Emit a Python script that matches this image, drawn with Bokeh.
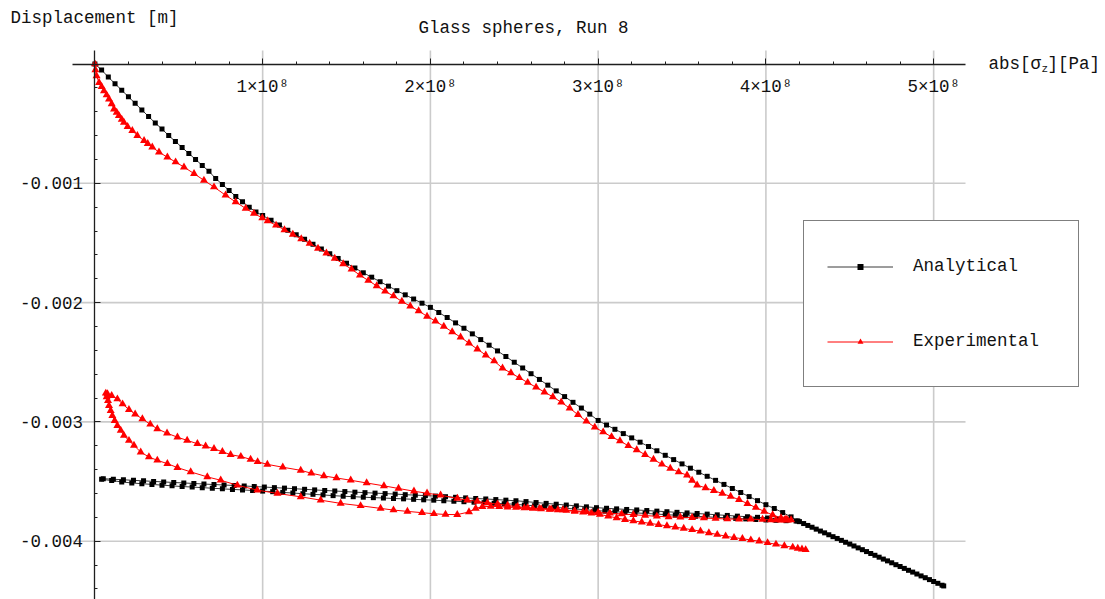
from bokeh.plotting import figure
from bokeh.models import Range1d, FixedTicker, CustomJSTickFormatter, Label, Legend, LegendItem
from bokeh.embed import file_html
from bokeh.resources import INLINE

FONT = "Liberation Mono"

# ---------------- data (stress in MPa, displacement in mm) ----------------
ana_load_stress = [0, 4, 8, 12, 16, 20, 24, 28, 32, 36, 40, 44, 48, 52, 56, 60, 64, 68, 72, 76, 80, 84, 88, 92, 96, 100,
                   105, 110, 115, 120, 125, 130, 135, 140, 145, 150, 155, 160, 165, 170, 175, 180, 185, 190, 195, 200,
                   205, 210, 215, 220, 225, 230, 235, 240, 245, 250, 255, 260, 265, 270, 275, 280, 285, 290, 295, 300,
                   305, 310, 315, 320, 325, 330, 335, 340, 345, 350, 355, 360, 365, 370, 375, 380, 385, 390, 395, 400,
                   405, 410, 415, 419]
ana_load_disp = [0, -0.05, -0.11, -0.165, -0.22, -0.275, -0.33, -0.385, -0.44, -0.495, -0.545, -0.6, -0.65, -0.7, -0.75,
                 -0.8, -0.85, -0.9, -0.96, -1.01, -1.06, -1.11, -1.155, -1.2, -1.24, -1.27,
                 -1.31, -1.35, -1.393, -1.432, -1.47, -1.51, -1.55, -1.59, -1.63, -1.67, -1.71, -1.75, -1.787, -1.825,
                 -1.862, -1.9, -1.935, -1.97, -2.005, -2.04,
                 -2.083, -2.125, -2.17, -2.215, -2.262, -2.31, -2.357, -2.405, -2.452, -2.5, -2.548, -2.596, -2.644,
                 -2.692, -2.74, -2.788, -2.836, -2.884, -2.935, -2.988,
                 -3.026, -3.062, -3.098, -3.134, -3.17, -3.206, -3.242, -3.28, -3.316, -3.352, -3.388, -3.422, -3.456,
                 -3.49, -3.524, -3.558, -3.592, -3.626, -3.66, -3.694,
                 -3.726, -3.76, -3.796, -3.83]

ana_unload_stress = [413, 407, 401, 395, 389, 383, 377, 371, 365, 359, 353, 347, 341, 335, 329, 323, 317, 311, 305,
                     299, 293, 287, 281, 275, 269, 263, 257, 251, 245, 239, 233, 227, 221, 215, 209, 203, 197, 191,
                     185, 179, 173, 167, 161, 155, 149, 143, 137, 131, 125, 119, 113, 107, 101, 95, 89, 83, 77, 71,
                     65, 59, 53, 47, 41, 35, 29, 23, 17, 11, 5]
ana_unload_disp = [-3.822, -3.814, -3.806, -3.8, -3.795, -3.79, -3.784, -3.779, -3.773, -3.768, -3.763, -3.758, -3.753,
                   -3.748, -3.743, -3.738, -3.734, -3.729, -3.724, -3.719, -3.712, -3.704, -3.697, -3.69, -3.683,
                   -3.676, -3.668, -3.661, -3.656, -3.651, -3.646, -3.642, -3.637, -3.632, -3.627, -3.622, -3.618,
                   -3.614, -3.61, -3.605, -3.601, -3.597, -3.593, -3.589, -3.584, -3.579, -3.575, -3.57, -3.565,
                   -3.56, -3.555, -3.551, -3.546, -3.542, -3.537, -3.533, -3.529, -3.525, -3.521, -3.516, -3.512,
                   -3.508, -3.503, -3.499, -3.494, -3.49, -3.485, -3.481, -3.476]

ana_reload_stress = [4, 10, 16, 22, 28, 34, 40, 46, 52, 58, 64, 70, 76, 82, 88, 94, 100, 106, 112, 118, 124, 130, 136,
                     142, 148, 154, 160, 166, 172, 178, 184, 190, 196, 202, 208, 214, 220, 226, 232, 238, 244, 250,
                     256, 262, 268, 274, 280, 286, 292, 298, 304, 310, 316, 322, 328, 334, 340, 346, 352, 358, 364,
                     370, 376, 382, 388, 394, 400, 406, 412, 418]
ana_reload_disp = [-3.481, -3.492, -3.503, -3.512, -3.518, -3.524, -3.53, -3.536, -3.542, -3.546, -3.551, -3.556,
                   -3.561, -3.566, -3.57, -3.575, -3.58, -3.585, -3.591, -3.596, -3.602, -3.607, -3.612, -3.618,
                   -3.623, -3.627, -3.631, -3.635, -3.638, -3.642, -3.645, -3.649, -3.653, -3.656, -3.661, -3.665,
                   -3.669, -3.673, -3.677, -3.682, -3.686, -3.69, -3.697, -3.703, -3.71, -3.716, -3.723, -3.73,
                   -3.736, -3.743, -3.748, -3.753, -3.758, -3.763, -3.767, -3.772, -3.777, -3.782, -3.786, -3.791,
                   -3.795, -3.8, -3.803, -3.809, -3.813, -3.818, -3.822, -3.825, -3.828, -3.831]

ana_final_stress = [420, 422.5, 425, 427.5, 430, 432.5, 435, 437.5, 440, 442.5, 445, 447.5, 450, 452.5, 455, 457.5,
                    460, 462.5, 465, 467.5, 470, 472.5, 475, 477.5, 480, 482.5, 485, 487.5, 490, 492.5, 495, 497.5,
                    500, 502.5, 505, 506]
ana_final_disp = [-3.836, -3.852, -3.868, -3.883, -3.899, -3.915, -3.93, -3.946, -3.962, -3.977, -3.993, -4.009,
                  -4.024, -4.04, -4.056, -4.071, -4.087, -4.103, -4.118, -4.134, -4.15, -4.165, -4.181, -4.197,
                  -4.212, -4.228, -4.244, -4.259, -4.275, -4.291, -4.306, -4.322, -4.338, -4.353, -4.369, -4.375]

exp_load_stress = [0, 0.3, 1, 2.5, 4, 5.4, 7, 8.4, 10, 11.4, 13, 14.3, 16, 17.3, 19.5, 22.3, 25.3, 29.3, 31.5, 34.2,
                   38.2, 43.2, 48.1, 53.1, 59.1, 65, 71, 77.9, 83.9, 89.9, 94.8, 99.8,
                   103, 108, 113, 118, 123, 128, 133, 138, 143, 148, 153, 158, 163, 168, 173, 178, 183, 188, 193, 198,
                   203, 208, 213, 218, 223, 228, 233, 238, 243, 248, 253, 258, 263, 268, 273, 278, 283, 288, 293, 298,
                   303, 308, 313, 318, 323, 328, 333, 338, 343, 348, 353,
                   356, 359, 364, 369, 374, 379, 384, 389, 394, 399, 404, 409, 412, 415]
exp_load_disp = [0, -0.05, -0.1, -0.156, -0.19, -0.225, -0.26, -0.294, -0.335, -0.378, -0.405, -0.433, -0.465, -0.489,
                 -0.525, -0.558, -0.6, -0.642, -0.667, -0.697, -0.739, -0.781, -0.822, -0.864, -0.919, -0.975, -1.031,
                 -1.1, -1.156, -1.211, -1.253, -1.29,
                 -1.315, -1.352, -1.39, -1.428, -1.466, -1.505, -1.545, -1.585, -1.63, -1.675, -1.72, -1.77, -1.815,
                 -1.86, -1.905, -1.945, -1.99, -2.03, -2.07, -2.115, -2.155, -2.2, -2.245, -2.29, -2.34, -2.39, -2.44,
                 -2.49, -2.55, -2.59, -2.63, -2.67, -2.71, -2.75, -2.79, -2.835, -2.885, -2.94, -2.995, -3.045,
                 -3.085, -3.125, -3.16, -3.2, -3.235, -3.275, -3.315, -3.355, -3.39, -3.42, -3.447,
                 -3.49, -3.53, -3.553, -3.576, -3.6, -3.625, -3.652, -3.685, -3.718, -3.75, -3.78, -3.805, -3.815,
                 -3.822]

exp_unload_stress = [413, 411, 409, 406, 403, 398, 391, 384, 377, 370, 363, 356, 349, 342, 335, 328, 321, 314, 307,
                     300, 293, 286, 279, 272, 265, 258, 252, 246, 240, 234, 228, 222, 216.1, 206.1, 198, 190.2, 181,
                     172.3, 162, 152.5, 144, 136.5, 129, 122.7, 112, 102.8, 97, 92.8, 87, 80.9, 76, 71, 66, 61.1, 55,
                     49.2, 43, 37.2, 33, 28.3, 24, 20.3, 16.5, 13.4, 10, 7.5, 6.5]
exp_unload_disp = [-3.823, -3.822, -3.823, -3.821, -3.822, -3.818, -3.816, -3.815, -3.814, -3.81, -3.806, -3.802,
                   -3.799, -3.796, -3.791, -3.785, -3.778, -3.772, -3.765, -3.76, -3.752, -3.745, -3.737, -3.731,
                   -3.726, -3.72, -3.711, -3.7, -3.69, -3.679, -3.666, -3.656, -3.642, -3.614, -3.598, -3.581,
                   -3.558, -3.536, -3.512, -3.489, -3.47, -3.453, -3.43, -3.406, -3.38, -3.356, -3.334, -3.314,
                   -3.29, -3.275, -3.25, -3.225, -3.204, -3.183, -3.155, -3.128, -3.095, -3.058, -3.02, -2.975,
                   -2.935, -2.897, -2.85, -2.808, -2.78, -2.765, -2.76]

exp_reload_stress = [7, 7.8, 8.4, 9.4, 10.4, 11.8, 13.4, 15.4, 17.3, 20.3, 23.3, 27.3, 32.2, 37.2, 43.2, 49.2, 57.1,
                     67, 75, 84.9, 96.8, 108.8, 122.7, 134.6, 146.5, 158.4, 170.3, 178, 186.3, 195, 202.1, 209, 216,
                     223, 227, 231, 236, 241, 246, 251, 256, 261, 266, 271, 276, 281, 286, 291, 296, 301, 306, 311,
                     316, 321, 326, 331, 336, 341, 346, 351, 356, 361, 366, 371, 376, 381, 386, 391, 396, 401, 406,
                     411, 416, 419, 421.5, 423.7]
exp_reload_disp = [-2.79, -2.822, -2.864, -2.906, -2.947, -2.989, -3.031, -3.072, -3.114, -3.156, -3.197, -3.253,
                   -3.294, -3.322, -3.35, -3.383, -3.419, -3.461, -3.489, -3.531, -3.572, -3.6, -3.628, -3.656,
                   -3.683, -3.703, -3.725, -3.739, -3.75, -3.761, -3.77, -3.776, -3.777, -3.755, -3.725, -3.711,
                   -3.708, -3.71, -3.714, -3.718, -3.722, -3.726, -3.73, -3.734, -3.738, -3.743, -3.75, -3.757,
                   -3.765, -3.776, -3.79, -3.805, -3.819, -3.83, -3.84, -3.851, -3.861, -3.872, -3.882, -3.893,
                   -3.904, -3.916, -3.93, -3.944, -3.958, -3.97, -3.979, -3.99, -4.0, -4.013, -4.026, -4.039,
                   -4.051, -4.06, -4.066, -4.072]

x_tick_values = [1e8, 2e8, 3e8, 4e8, 5e8]
x_tick_labels = ["1×10⁸", "2×10⁸", "3×10⁸", "4×10⁸", "5×10⁸"]
y_tick_values = [-0.001, -0.002, -0.003, -0.004]
y_tick_labels = ["-0.001", "-0.002", "-0.003", "-0.004"]

title_text = "Glass spheres, Run 8"
y_label_text = "Displacement [m]"
x_label_parts = ["abs[σ", "z", "][Pa]"]
series_names = ["Analytical", "Experimental"]

# ---------------- assemble series (MPa -> Pa, mm -> m) ----------------
ana_s = ana_load_stress + ana_unload_stress + ana_reload_stress + ana_final_stress
ana_d = ana_load_disp + ana_unload_disp + ana_reload_disp + ana_final_disp
exp_s = exp_load_stress + exp_unload_stress + exp_reload_stress
exp_d = exp_load_disp + exp_unload_disp + exp_reload_disp
assert len(ana_s) == len(ana_d) and len(exp_s) == len(exp_d)
ana_x = [v * 1e6 for v in ana_s]
ana_y = [v * 1e-3 for v in ana_d]
exp_x = [v * 1e6 for v in exp_s]
exp_y = [v * 1e-3 for v in exp_d]

# ---------------- layout constants ----------------
W, H = 1105, 599
X0_PX, X_PX_PER_UNIT = 94.4, 167.75 / 1e8      # pixel of x=0, px per Pa
Y0_PX, Y_PX_PER_UNIT = 63.5, 119.3 / 1e-3      # pixel of y=0, px per m
x_lo, x_hi = -X0_PX / X_PX_PER_UNIT, (W - X0_PX) / X_PX_PER_UNIT
y_hi, y_lo = Y0_PX / Y_PX_PER_UNIT, -(H - Y0_PX) / Y_PX_PER_UNIT
axis_x_bounds = ((72 - X0_PX) / X_PX_PER_UNIT, (965 - X0_PX) / X_PX_PER_UNIT)
axis_y_bounds = (y_lo, (Y0_PX - 50) / Y_PX_PER_UNIT)

p = figure(width=W, height=H, output_backend="svg", toolbar_location=None, title=None,
           x_range=Range1d(x_lo, x_hi), y_range=Range1d(y_lo, y_hi),
           min_border=0, min_border_left=0, min_border_right=0, min_border_top=0, min_border_bottom=0)
p.outline_line_color = None
p.background_fill_color = "white"
p.border_fill_color = "white"
p.xgrid.visible = False
p.ygrid.visible = False

# grid lines limited to the axes' extent (as in the reference)
GRID = dict(line_color="#cbcbcb", line_width=1.6)
p.segment(x0=x_tick_values, x1=x_tick_values, y0=[axis_y_bounds[1]] * len(x_tick_values),
          y1=[axis_y_bounds[0]] * len(x_tick_values), **GRID)
p.segment(x0=[axis_x_bounds[0]] * len(y_tick_values), x1=[axis_x_bounds[1]] * len(y_tick_values),
          y0=y_tick_values, y1=y_tick_values, **GRID)

x_minor = [k * 0.2e8 for k in range(1, 26) if k % 5 != 0]
y_minor = [-k * 0.0002 for k in range(1, 23) if k % 5 != 0]

fmt_code = """
for (let i = 0; i < vals.length; i++) {
  if (Math.abs(vals[i] - tick) <= Math.abs(vals[i]) * 1e-6) return labs[i];
}
return "";
"""

for ax, vals, labs, minor, bnds in ((p.xaxis[0], x_tick_values, x_tick_labels, x_minor, axis_x_bounds),
                                    (p.yaxis[0], y_tick_values, y_tick_labels, y_minor, axis_y_bounds)):
    ax.fixed_location = 0
    ax.bounds = bnds
    ax.ticker = FixedTicker(ticks=vals, minor_ticks=minor)
    ax.formatter = CustomJSTickFormatter(args=dict(vals=vals, labs=labs), code=fmt_code)
    ax.axis_line_color = "#1e1e1e"
    ax.axis_line_width = 1.3
    ax.major_tick_line_color = "#1e1e1e"
    ax.minor_tick_line_color = "#1e1e1e"
    ax.major_tick_in = 6
    ax.major_tick_out = 0
    ax.minor_tick_in = 3
    ax.minor_tick_out = 0
    ax.major_label_text_font = FONT
    ax.major_label_text_font_size = "17.5px"
    ax.major_label_text_font_style = "normal"
    ax.major_label_text_color = "#111111"

p.xaxis[0].major_label_standoff = 13
p.yaxis[0].major_label_standoff = 12

# ---------------- series ----------------
a_line = p.line(ana_x, ana_y, line_color="#3a3a3a", line_width=1)
a_pts = p.scatter(ana_x, ana_y, marker="square", size=5, fill_color="black", line_color=None)
e_line = p.line(exp_x, exp_y, line_color="#ff0000", line_width=1)
e_pts = p.scatter(exp_x, exp_y, marker="triangle", size=8, fill_color="#ff0000", line_color=None)

# ---------------- texts (screen units from the canvas' bottom-left) ----------------
def add_text(text, x, y_from_top, size, align="left"):
    p.add_layout(Label(x=x, y=H - y_from_top, x_units="screen", y_units="screen", text=text, text_font=FONT,
                       text_font_size=size, text_align=align, text_baseline="middle", text_color="#111111"))

add_text(y_label_text, 10, 17, "17.5px")
add_text(title_text, 523, 27, "17.5px", align="center")
add_text(x_label_parts[0], 988, 63, "17.5px")
add_text(x_label_parts[1], 1041, 68, "11px")
add_text(x_label_parts[2], 1047, 63, "17.5px")

legend = Legend(items=[LegendItem(label=series_names[0], renderers=[a_line, a_pts]),
                       LegendItem(label=series_names[1], renderers=[e_line, e_pts])],
                location=(803, H - 387), orientation="vertical",
                padding=23, spacing=31, glyph_width=66, glyph_height=15, label_height=44,
                label_width=142, label_standoff=20, margin=0,
                label_text_font=FONT, label_text_font_size="17.5px", label_text_color="#111111",
                border_line_color="black", border_line_width=1,
                background_fill_color="white", background_fill_alpha=1.0)
p.add_layout(legend)

open("out.html", "w").write(file_html(p, INLINE))
